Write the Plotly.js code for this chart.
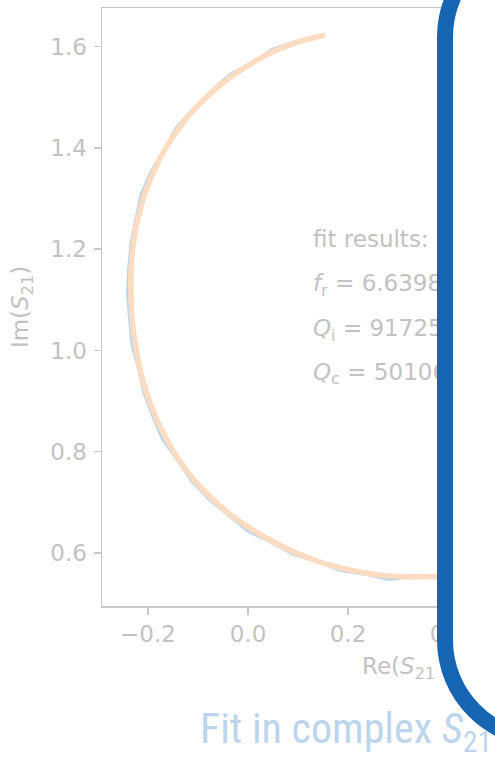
<!DOCTYPE html>
<html>
<head>
<meta charset="utf-8">
<script src="https://cdn.plot.ly/plotly-3.0.1.min.js"></script>
<style>
  html, body { margin: 0; padding: 0; background: #ffffff; }
  #chart { width: 495px; height: 763px; }
  .gtitle { font-stretch: condensed; }
</style>
</head>
<body>
<div id="chart"></div>
<script>
// Measured transmission S21 in the complex plane (Re, Im)
const dataRe = [0.148, 0.0964, 0.050, 0.0082, -0.0358, -0.0732, -0.1091, -0.1423, -0.1668, -0.1926,
                -0.2132, -0.2225, -0.2333, -0.2378, -0.2400, -0.2358, -0.2315, -0.2185, -0.2076, -0.1898,
                -0.1702, -0.1406, -0.1123, -0.0774, -0.0383, 0.0002, 0.0460, 0.0897, 0.1378, 0.1842,
                0.2333, 0.2823, 0.3320, 0.3815, 0.4307, 0.4796, 0.5263];
const dataIm = [1.621, 1.6099, 1.5945, 1.5678, 1.5441, 1.5117, 1.4773, 1.4397, 1.3960, 1.3534,
                1.3075, 1.2584, 1.2102, 1.1606, 1.1116, 1.0627, 1.0134, 0.9657, 0.9176, 0.8709,
                0.8251, 0.7846, 0.7433, 0.7072, 0.6759, 0.6441, 0.6224, 0.5988, 0.5842, 0.5668,
                0.5592, 0.5489, 0.5546, 0.5509, 0.5592, 0.5678, 0.5845];

// Resonator model fit
const fitRe = [0.154, 0.0972, 0.0520, 0.0082, -0.0332, -0.0718, -0.1076, -0.1390, -0.1668, -0.1890,
               -0.2076, -0.2206, -0.2294, -0.2338, -0.2340, -0.2318, -0.2256, -0.2166, -0.2038, -0.1862,
               -0.1650, -0.1390, -0.1092, -0.0746, -0.0370, 0.0036, 0.0470, 0.0914, 0.1378, 0.1852,
               0.2336, 0.2828, 0.3320, 0.3812, 0.4304, 0.4786, 0.5256];
const fitIm = [1.623, 1.6081, 1.5911, 1.5678, 1.5411, 1.5103, 1.4760, 1.4374, 1.3960, 1.3517,
               1.3055, 1.2579, 1.2095, 1.1603, 1.1116, 1.0630, 1.0144, 0.9662, 0.9190, 0.8726,
               0.8281, 0.7857, 0.7458, 0.7100, 0.6774, 0.6490, 0.6241, 0.6024, 0.5842, 0.5706,
               0.5611, 0.5548, 0.5526, 0.5548, 0.5611, 0.5716, 0.5864];

// Axis ticks
const xTickVals = [-0.2, 0.0, 0.2, 0.4];
const xTickText = ['\u22120.2', '0.0', '0.2', '0.4'];
const yTickVals = [0.6, 0.8, 1.0, 1.2, 1.4, 1.6];
const yTickText = ['0.6', '0.8', '1.0', '1.2', '1.4', '1.6'];

// Fit summary text
const infoLines = ['fit results:',
                   '<i>f</i><sub>r</sub> = 6.6398 GHz',
                   '<i>Q</i><sub>i</sub> = 91725',
                   '<i>Q</i><sub>c</sub> = 50106'];

const W = 495, H = 763;
const M = {l: 102, r: 15, t: 8, b: 157};
const grey = '#c2c2c2';
const axisGrey = '#c8c8c8';
const mono = 'DejaVu Sans, sans-serif';

// pixel -> paper coordinates for the decorative frame and the x label
const pw = W - M.l - M.r, ph = H - M.t - M.b;
const px = x => ((x - M.l) / pw).toFixed(5);
const py = y => ((H - M.b - y) / ph).toFixed(5);
const R = 100, k = 0.5523 * R;
const fx = 445, fTop = -63, fBot = 740, far = 1200;
const framePath =
  'M' + px(far) + ',' + py(fTop) +
  ' L' + px(fx + R) + ',' + py(fTop) +
  ' C' + px(fx + R - k) + ',' + py(fTop) + ' ' + px(fx) + ',' + py(fTop + R - k) + ' ' + px(fx) + ',' + py(fTop + R) +
  ' L' + px(fx) + ',' + py(fBot - R) +
  ' C' + px(fx) + ',' + py(fBot - R + k) + ' ' + px(fx + R - k) + ',' + py(fBot) + ' ' + px(fx + R) + ',' + py(fBot) +
  ' L' + px(far) + ',' + py(fBot) + ' Z';

const traces = [
  {
    x: dataRe, y: dataIm, type: 'scatter', mode: 'lines',
    line: {color: '#bdd5ea', width: 4},
    hoverinfo: 'skip', showlegend: false
  },
  {
    x: fitRe, y: fitIm, type: 'scatter', mode: 'lines',
    line: {color: '#fddcc1', width: 5.5, shape: 'spline', smoothing: 1},
    hoverinfo: 'skip', showlegend: false
  },
  {
    x: [0.13, 0.13, 0.13, 0.13], y: [1.216, 1.129, 1.040, 0.954],
    text: infoLines, type: 'scatter', mode: 'text', textposition: 'middle right',
    textfont: {family: mono, size: 23, color: grey},
    cliponaxis: false, hoverinfo: 'skip', showlegend: false
  }
];

const layout = {
  width: W, height: H,
  margin: M,
  paper_bgcolor: '#ffffff', plot_bgcolor: '#ffffff',
  showlegend: false,
  title: {
    text: 'Fit in complex <i>S</i><sub>21</sub>',
    font: {family: 'Roboto Condensed, Liberation Sans Narrow, Roboto, sans-serif', size: 42, color: '#bcd5ec'},
    xref: 'container', x: 200 / W, xanchor: 'left',
    yref: 'container', y: 20 / H, yanchor: 'bottom'
  },
  xaxis: {
    range: [-0.292, 0.464],
    tickmode: 'array', tickvals: xTickVals, ticktext: xTickText,
    ticks: 'outside', ticklen: 7, tickwidth: 1.5, tickcolor: axisGrey,
    showline: true, mirror: true, linecolor: axisGrey, linewidth: 1.5,
    showgrid: false, zeroline: false,
    tickfont: {family: mono, size: 23, color: grey}
  },
  yaxis: {
    range: [0.4953, 1.6764],
    tickmode: 'array', tickvals: yTickVals, ticktext: yTickText,
    ticks: 'outside', ticklen: 7, tickwidth: 1.5, tickcolor: axisGrey,
    ticklabelstandoff: 2,
    showline: true, mirror: true, linecolor: axisGrey, linewidth: 1.5,
    showgrid: false, zeroline: false,
    tickfont: {family: mono, size: 23, color: grey},
    title: {text: 'Im(<i>S</i><sub>21</sub>)', font: {family: mono, size: 23, color: grey}, standoff: 15}
  },
  annotations: [{
    text: 'Re(<i>S</i><sub>21</sub>',
    xref: 'paper', yref: 'paper',
    x: +px(360), y: +py(668), xanchor: 'left', yanchor: 'middle',
    showarrow: false,
    font: {family: mono, size: 23, color: grey}
  }],
  shapes: [{
    type: 'path', xref: 'paper', yref: 'paper', layer: 'above',
    path: framePath,
    fillcolor: '#ffffff',
    line: {color: '#1565b2', width: 16}
  }]
};

Plotly.newPlot('chart', traces, layout, {displayModeBar: false, staticPlot: true});
</script>
</body>
</html>
